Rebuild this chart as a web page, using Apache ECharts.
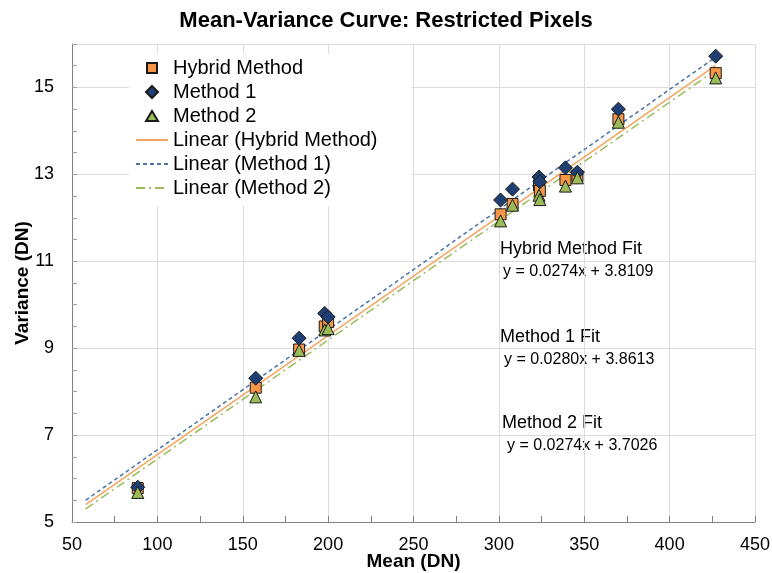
<!DOCTYPE html>
<html>
<head>
<meta charset="utf-8">
<script src="https://cdn.jsdelivr.net/npm/echarts@6/dist/echarts.min.js"></script>
<style>
  html, body { margin: 0; padding: 0; background: #fff; }
  #chart { width: 772px; height: 573px; }
</style>
</head>
<body>
<div id="chart"></div>
<script>
  // 数据：均值与三种方法的方差
  const means = [88.5, 157.6, 183, 198, 200, 301, 308, 323.5, 324, 339, 346, 370, 427]
  const hybridVar = [5.78, 8.09, 8.97, 9.50, 9.60, 12.08, 12.32, 12.75, 12.62, 12.87, 12.96, 14.27, 15.33]
  const method1Var = [5.80, 8.31, 9.23, 9.80, 9.72, 12.41, 12.66, 12.94, 12.83, 13.15, 13.05, 14.50, 15.72]
  const method2Var = [5.68, 7.88, 8.95, 9.42, 9.45, 11.93, 12.29, 12.52, 12.42, 12.73, 12.92, 14.20, 15.22]

  // 趋势线端点
  const hybridFit = [[58, 5.40], [427, 15.51]]
  const method1Fit = [[58, 5.50], [427, 15.70]]
  const method2Fit = [[58, 5.30], [427, 15.40]]

  const fitNotes = [
    ['Hybrid Method Fit', 'y = 0.0274x + 3.8109'],
    ['Method 1 Fit', 'y = 0.0280x + 3.8613'],
    ['Method 2 Fit', 'y = 0.0274x + 3.7026']
  ]

  const xTicks = {min: 50, max: 450, interval: 50}
  const yTicks = {min: 5, max: 16, interval: 2}

  const font = 'Arial, "Liberation Sans", sans-serif'
  const pair = arr => means.map((m, i) => [m, arr[i]])

  // 图例图标：在32x12的框内居中绘制
  const legendIcons = {
    rect: 'path://M0,0M32,12M11,1h10v10h-10z',
    diamond: 'path://M0,0M32,12M16,0L22,6L16,12L10,6z',
    triangle: 'path://M0,0M32,12M16,1L22,11H10z'
  }

  const chart = echarts.init(document.getElementById('chart'), null, {renderer: 'canvas'})

  function scatterSeries (name, data, symbol, size, color) {
    return {
      name,
      type: 'scatter',
      data,
      symbol,
      symbolSize: size,
      z: 5,
      itemStyle: {color, opacity: 1, borderColor: '#1a1a1a', borderWidth: 1}
    }
  }

  function fitSeries (name, data, color, type) {
    return {
      name,
      type: 'line',
      data,
      symbol: 'none',
      z: 3,
      silent: true,
      itemStyle: {color},
      lineStyle: {color, width: 1.5, type}
    }
  }

  const graphic = []
  const noteTops = [240, 328, 414]
  const noteLefts = [[500, 503], [500, 504], [502, 507]]
  fitNotes.forEach((note, i) => {
    graphic.push({
      type: 'text', left: noteLefts[i][0], top: noteTops[i],
      style: {text: note[0], font: '18px ' + font, fill: '#000'}
    })
    graphic.push({
      type: 'text', left: noteLefts[i][1], top: noteTops[i] + 24,
      style: {text: note[1], font: '16px ' + font, fill: '#000'}
    })
  })

  const lineLegend = name => ({name, itemStyle: {color: 'rgba(0,0,0,0)', borderWidth: 0}})

  const option = {
    backgroundColor: '#fff',
    animation: false,
    title: {
      text: 'Mean-Variance Curve: Restricted Pixels',
      left: 'center',
      top: 5,
      textStyle: {fontFamily: font, fontSize: 22, fontWeight: 'bold', color: '#000'}
    },
    grid: {left: 72, right: 17, top: 44, bottom: 51, containLabel: false, outerBoundsMode: 'none'},
    legend: {
      orient: 'vertical',
      left: 129,
      top: 54,
      padding: [4, 34, 8, 6],
      backgroundColor: '#fff',
      itemWidth: 32,
      itemHeight: 12,
      itemGap: 4,
      textStyle: {fontFamily: font, fontSize: 20, color: '#000', lineHeight: 20},
      data: [
        {name: 'Hybrid Method', icon: legendIcons.rect},
        {name: 'Method 1', icon: legendIcons.diamond},
        {name: 'Method 2', icon: legendIcons.triangle},
        lineLegend('Linear (Hybrid Method)'),
        lineLegend('Linear (Method 1)'),
        lineLegend('Linear (Method 2)')
      ]
    },
    xAxis: {
      type: 'value',
      min: xTicks.min,
      max: xTicks.max,
      interval: xTicks.interval,
      name: 'Mean (DN)',
      nameLocation: 'middle',
      nameGap: 30,
      nameMoveOverlap: false,
      nameTextStyle: {fontFamily: font, fontSize: 19, fontWeight: 'bold', color: '#000'},
      axisLine: {lineStyle: {color: '#808080', width: 1}},
      axisTick: {show: true, inside: true, length: 6, lineStyle: {color: '#808080'}},
      minorTick: {show: true, splitNumber: 2, length: 6, lineStyle: {color: '#808080'}},
      axisLabel: {fontFamily: font, fontSize: 18, color: '#000', margin: 14},
      splitLine: {show: true, lineStyle: {color: '#dcdcdc', width: 1}}
    },
    yAxis: {
      type: 'value',
      min: yTicks.min,
      max: yTicks.max,
      interval: yTicks.interval,
      name: 'Variance (DN)',
      nameLocation: 'middle',
      nameGap: 40,
      nameMoveOverlap: false,
      nameTextStyle: {fontFamily: font, fontSize: 19, fontWeight: 'bold', color: '#000'},
      axisLine: {show: true, lineStyle: {color: '#808080', width: 1}},
      axisTick: {show: true, inside: true, length: 5, lineStyle: {color: '#a0a0a0'}},
      minorTick: {show: true, splitNumber: 4, length: 5, lineStyle: {color: '#a0a0a0'}},
      axisLabel: {fontFamily: font, fontSize: 18, color: '#000', margin: 18, showMaxLabel: false},
      splitLine: {show: true, lineStyle: {color: '#dcdcdc', width: 1}}
    },
    series: [
      scatterSeries('Hybrid Method', pair(hybridVar), 'rect', 11, '#f79646'),
      scatterSeries('Method 1', pair(method1Var), 'diamond', 14, '#1f3f73'),
      scatterSeries('Method 2', pair(method2Var), 'triangle', 12, '#9bbb59'),
      fitSeries('Linear (Hybrid Method)', hybridFit, '#f4a460', 'solid'),
      fitSeries('Linear (Method 1)', method1Fit, '#4a73a8', [4, 3]),
      fitSeries('Linear (Method 2)', method2Fit, '#9bbb59', [9, 4, 2, 4])
    ],
    graphic
  }

  chart.setOption(option)
</script>
</body>
</html>
